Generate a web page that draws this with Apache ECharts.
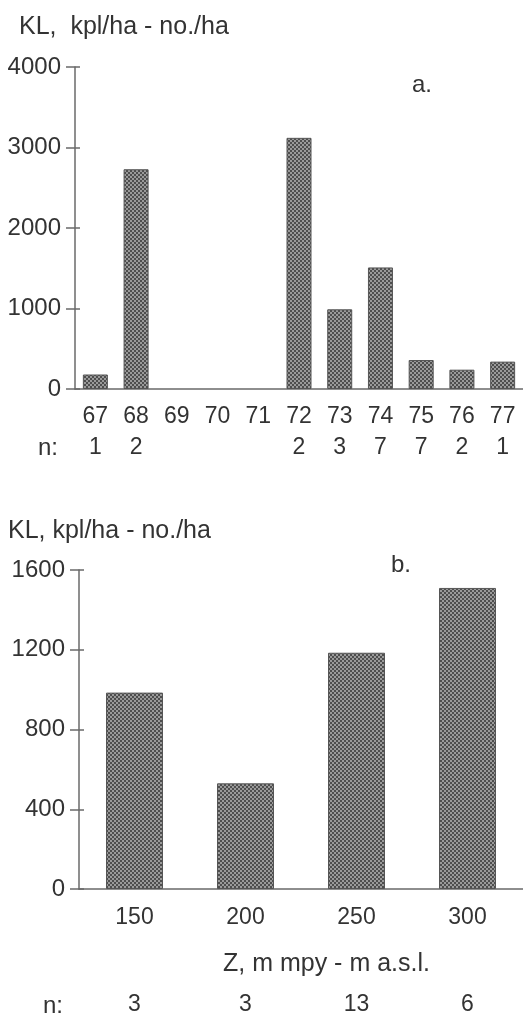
<!DOCTYPE html>
<html>
<head>
<meta charset="utf-8">
<script src="https://cdn.jsdelivr.net/npm/echarts@6/dist/echarts.min.js"></script>
<style>
  html, body { margin: 0; padding: 0; background: #fff; }
  #chart { width: 523px; height: 1016px; }
</style>
</head>
<body>
<div id="chart"></div>
<script>
// Panel a: yearly catches (67–77); years without samples have no bar
const yearLabels = ['67', '68', '69', '70', '71', '72', '73', '74', '75', '76', '77'];
const yearValues = [180, 2730, null, null, null, 3120, 990, 1510, 360, 240, 340];
const yearCounts = ['1', '2', '', '', '', '2', '3', '7', '7', '2', '1'];
const yearTicks = [0, 1000, 2000, 3000, 4000];

// Panel b: by elevation class
const altLabels = ['150', '200', '250', '300'];
const altValues = [985, 530, 1185, 1510];
const altCounts = ['3', '3', '13', '6'];
const altTicks = [0, 400, 800, 1200, 1600];

const FONT = '"Liberation Sans", Arial, Helvetica, sans-serif';
const INK = '#333';
const AXIS = '#6a6a6a';

// checkered fill for the bars
function hatch() {
  const c = document.createElement('canvas');
  c.width = 4; c.height = 4;
  const g = c.getContext('2d');
  g.fillStyle = '#9a9a9a';
  g.fillRect(0, 0, 4, 4);
  g.fillStyle = '#4e4e4e';
  g.fillRect(0, 0, 2, 2);
  g.fillRect(2, 2, 2, 2);
  return c;
}
const fill = { image: hatch(), repeat: 'repeat' };

const txt = (size) => ({ fontFamily: FONT, fontSize: size, color: INK });
const head = (size) => ({ ...txt(size), fontWeight: 'normal' });

function valueAxes(gridIndex, ticks) {
  const min = ticks[0], max = ticks[ticks.length - 1], step = ticks[1] - ticks[0];
  return [
    {
      type: 'value', gridIndex, min, max, interval: step,
      axisLine: { show: true, lineStyle: { color: AXIS, width: 1.5 } },
      axisTick: { show: true, length: 9, lineStyle: { color: AXIS, width: 1.5 } },
      axisLabel: { margin: 14, formatter: (v) => String(v), ...txt(24) },
      splitLine: { show: false }
    },
    {
      type: 'value', gridIndex, min, max, interval: step, position: 'left',
      axisLine: { show: false },
      axisTick: { show: true, inside: true, length: 5, lineStyle: { color: AXIS, width: 1.5 } },
      axisLabel: { show: false },
      splitLine: { show: false }
    }
  ];
}

const chart = echarts.init(document.getElementById('chart'), null, { renderer: 'canvas' });
chart.setOption({
  animation: false,
  backgroundColor: '#fff',
  title: [
    { text: 'KL,  kpl/ha - no./ha', left: 19, top: 15, padding: 0, textStyle: head(25) },
    { text: 'a.', left: 412, top: 73, padding: 0, textStyle: head(24) },
    { text: 'n:', left: 38, top: 436, padding: 0, textStyle: head(24) },
    { text: 'KL, kpl/ha - no./ha', left: 8, top: 519, padding: 0, textStyle: head(25) },
    { text: 'b.', left: 391, top: 553, padding: 0, textStyle: head(24) },
    { text: 'Z, m mpy - m a.s.l.', left: 223, top: 952, padding: 0, textStyle: head(25) },
    { text: 'n:', left: 43, top: 994, padding: 0, textStyle: head(24) }
  ],
  grid: [
    { left: 75, top: 67, width: 448, height: 322 },
    { left: 79, top: 570, width: 449, height: 320 }
  ],
  xAxis: [
    {
      type: 'category', gridIndex: 0, data: yearLabels,
      axisLine: { show: true, lineStyle: { color: AXIS, width: 1.5 } },
      axisTick: { show: false },
      axisLabel: { margin: 16, interval: 0, ...txt(23) }
    },
    {
      type: 'category', gridIndex: 0, data: yearCounts, position: 'bottom',
      axisLine: { show: false }, axisTick: { show: false },
      axisLabel: { margin: 47, interval: 0, ...txt(23) }
    },
    {
      type: 'category', gridIndex: 1, data: altLabels,
      axisLine: { show: true, lineStyle: { color: AXIS, width: 1.5 } },
      axisTick: { show: false },
      axisLabel: { margin: 17, interval: 0, ...txt(23) }
    },
    {
      type: 'category', gridIndex: 1, data: altCounts, position: 'bottom',
      axisLine: { show: false }, axisTick: { show: false },
      axisLabel: { margin: 104, interval: 0, ...txt(23) }
    }
  ],
  yAxis: [...valueAxes(0, yearTicks), ...valueAxes(1, altTicks)],
  series: [
    {
      type: 'bar', xAxisIndex: 0, yAxisIndex: 0, data: yearValues, barWidth: 25,
      itemStyle: { color: fill, borderColor: '#555', borderWidth: 1 }
    },
    {
      type: 'bar', xAxisIndex: 2, yAxisIndex: 2, data: altValues, barWidth: 57,
      itemStyle: { color: fill, borderColor: '#555', borderWidth: 1 }
    }
  ]
});
</script>
</body>
</html>
